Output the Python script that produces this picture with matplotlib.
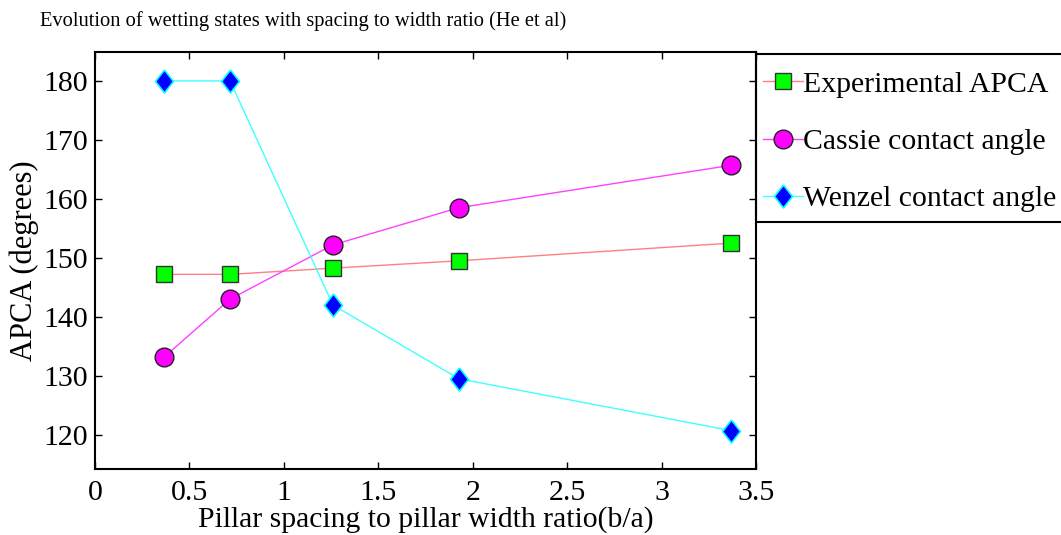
import matplotlib
matplotlib.use('Agg')
import matplotlib.pyplot as plt
from matplotlib.patches import Rectangle

plt.rcParams['font.family'] = ['Liberation Serif', 'DejaVu Serif']

# Data
ratio = [0.367, 0.715, 1.26, 1.927, 3.37]
experimental = [147.2, 147.2, 148.25, 149.5, 152.5]
cassie = [133.2, 143.0, 152.2, 158.5, 165.7]
wenzel = [180.0, 180.0, 142.0, 129.5, 120.7]

xticks = [0, 0.5, 1, 1.5, 2, 2.5, 3, 3.5]
xticklabels = ['0', '0.5', '1', '1.5', '2', '2.5', '3', '3.5']
yticks = [120, 130, 140, 150, 160, 170, 180]

# MATLAB style diamond (taller than wide)
diamond = [(0, 1), (0.78, 0), (0, -1), (-0.78, 0), (0, 1)]

W, H = 1061, 535
fig = plt.figure(figsize=(W / 100, H / 100), dpi=100)
ax = fig.add_axes([95 / W, 1 - 469 / H, (756 - 95) / W, (469 - 52) / H])

ax.plot(ratio, experimental, color='#ff8080', linewidth=1,
        marker='s', markersize=11.5, markerfacecolor='#00ff00',
        markeredgecolor='#333333', markeredgewidth=1,
        label='Experimental APCA')
ax.plot(ratio, cassie, color='#ff40ff', linewidth=1,
        marker='o', markersize=13.5, markerfacecolor='#ff00ff',
        markeredgecolor='#222222', markeredgewidth=1,
        label='Cassie contact angle')
ax.plot(ratio, wenzel, color='#40ffff', linewidth=1,
        marker=diamond, markersize=16.5, markerfacecolor='#0000ff',
        markeredgecolor='#00ffff', markeredgewidth=1.2,
        label='Wenzel contact angle')

ax.set_xlim(0, 3.5)
ax.set_ylim(114.2, 184.9)
ax.set_xticks(xticks)
ax.set_xticklabels(xticklabels)
ax.set_yticks(yticks)
ax.tick_params(direction='in', top=True, right=True, length=5, width=1,
               labelsize=21.5)
ax.tick_params(axis='x', pad=8)
ax.tick_params(axis='y', pad=5)
for s in ax.spines.values():
    s.set_linewidth(1.5)

ax.set_xlabel('Pillar spacing to pillar width ratio(b/a)', fontsize=21.3, labelpad=0)
ax.set_ylabel('APCA (degrees)', fontsize=22, labelpad=3)
fig.text(40 / W, 1 - 21 / H, 'Evolution of wetting states with spacing to width ratio (He et al)',
         fontsize=14.8, va='center', ha='left')

# legend box sits outside the axes, partly off the figure
leg = ax.legend(loc='upper left', bbox_to_anchor=(763 / W, 1 - 71 / H),
                bbox_transform=fig.transFigure, fontsize=21.4, frameon=False,
                handlelength=1.35, handletextpad=0.0, borderaxespad=0,
                borderpad=0, labelspacing=1.02, markerscale=1.0)
fig.patches.append(Rectangle((756 / W, 1 - 222 / H), 330 / W, 168 / H,
                             transform=fig.transFigure, fill=False,
                             edgecolor='black', linewidth=1.5))

fig.savefig('out.png', dpi=100)
